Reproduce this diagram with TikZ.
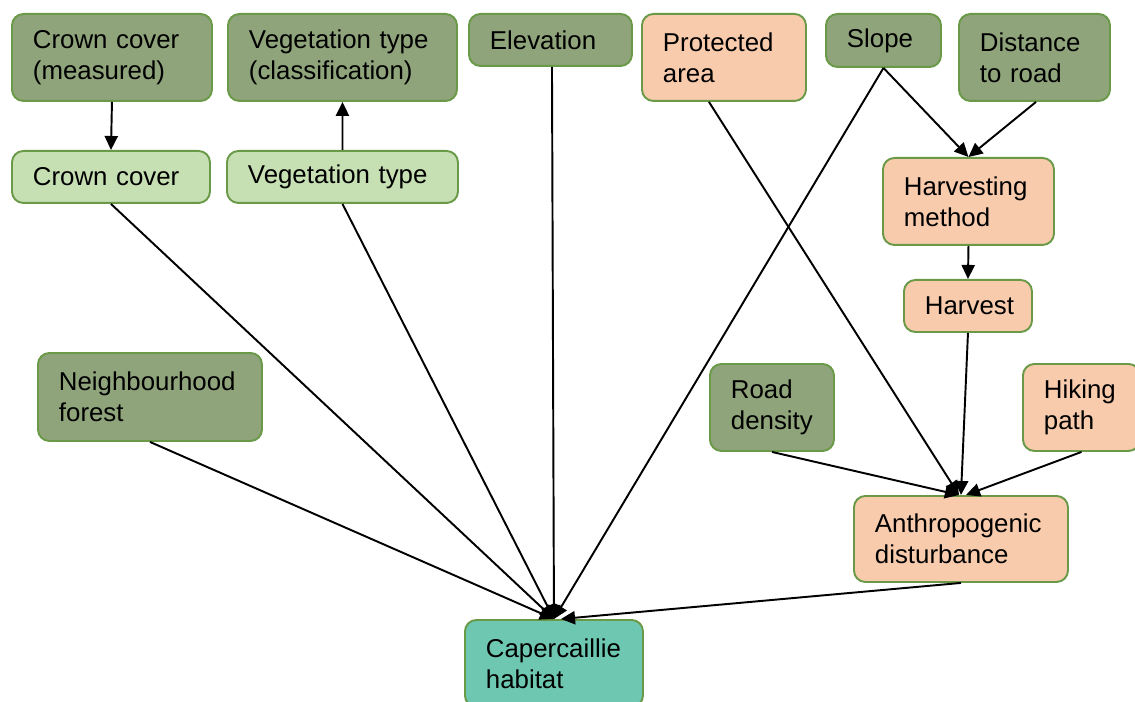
\documentclass[tikz,border=0pt]{standalone}
\usepackage{fontspec}
\setmainfont{Liberation Sans}
\usetikzlibrary{arrows.meta,calc}
\definecolor{dkg}{RGB}{143,164,122}
\definecolor{ltg}{RGB}{198,224,180}
\definecolor{org}{RGB}{248,203,173}
\definecolor{capc}{RGB}{110,200,177}
\definecolor{bord}{RGB}{106,153,72}
\tikzset{
  box/.style={draw=bord, line width=1.1pt, rounded corners=6.5pt, align=left,
    inner xsep=0.42cm, inner ysep=0pt, font=\fontsize{14.7}{17.6}\selectfont, text=black},
  dark/.style={box, fill=dkg},
  light/.style={box, fill=ltg},
  orng/.style={box, fill=org},
  capb/.style={box, fill=capc},
  conn/.style={line width=1.1pt, draw=black, -{Triangle[length=8pt,width=7.5pt]}}
}
\newcommand\bx[7]{%
  \pgfmathsetmacro\bxmw{(#4-#2)*0.02}%
  \pgfmathsetmacro\bxmh{(#5-#3)*0.02}%
  \pgfmathsetmacro\bxtw{(#4-#2-42)*0.02}%
  \node[#6, anchor=north west, minimum width=\bxmw cm, minimum height=\bxmh cm,
        text width=\bxtw cm] (#1) at (#2,#3) {#7};}
\begin{document}
\begin{tikzpicture}[x=0.02cm,y=-0.02cm]
\useasboundingbox (0,0) rectangle (1135,702);
\clip (0,0) rectangle (1135,702);
\bx{ccm}{11}{13}{211}{100}{dark}{Crown cover\\(measured)}
\bx{vtc}{227}{13}{456}{100}{dark}{Vegetation type\\(classification)}
\bx{elev}{468}{13}{631}{65}{dark}{Elevation}
\bx{prot}{641}{13}{805}{100}{orng}{Protected\\area}
\bx{slope}{825}{13}{940}{66}{dark}{Slope}
\bx{dist}{958}{13}{1109}{100}{dark}{Distance\\to road}
\bx{cc}{11}{150}{209}{202}{light}{Crown cover}
\bx{vt}{226}{150}{457}{202}{light}{Vegetation type}
\bx{hm}{882}{157}{1053}{244}{orng}{Harvesting\\method}
\bx{harv}{903}{279}{1031}{331}{orng}{Harvest}
\bx{nf}{37}{352}{261}{440}{dark}{Neighbourhood\\forest}
\bx{rd}{709}{363}{833}{450}{dark}{Road\\density}
\bx{hp}{1022}{363}{1139}{450}{orng}{Hiking\\path}
\bx{anth}{853}{495}{1067}{581}{orng}{Anthropogenic\\disturbance}
\bx{cap}{464}{619}{642}{706}{capb}{Capercaillie\\habitat}

\draw[conn] (ccm.south) -- (cc.north);
\draw[conn] (vt.north) -- (vtc.south);
\draw[conn] (cc.south) -- (cap.north);
\draw[conn] (vt.south) -- (cap.north);
\draw[conn] ($(elev.south)+(1.5,0)$) -- (cap.north);
\draw[conn] (slope.south) -- (cap.north);
\draw[conn] (nf.south) -- (cap.north);
\draw[conn] (anth.south) -- ($(cap.north)+(7,0)$);
\draw[conn] (slope.south) -- (hm.north);
\draw[conn] ($(dist.south)+(1.5,0)$) -- (hm.north);
\draw[conn] (hm.south) -- (harv.north);
\draw[conn] ($(prot.south)+(-15,0)$) -- ($(anth.north)+(-2,0)$);
\draw[conn] (harv.south) -- (anth.north);
\draw[conn] (rd.south) -- ($(anth.north)+(-2,0)$);
\draw[conn] (hp.south) -- ($(anth.north)+(5,0)$);
\end{tikzpicture}
\end{document}
